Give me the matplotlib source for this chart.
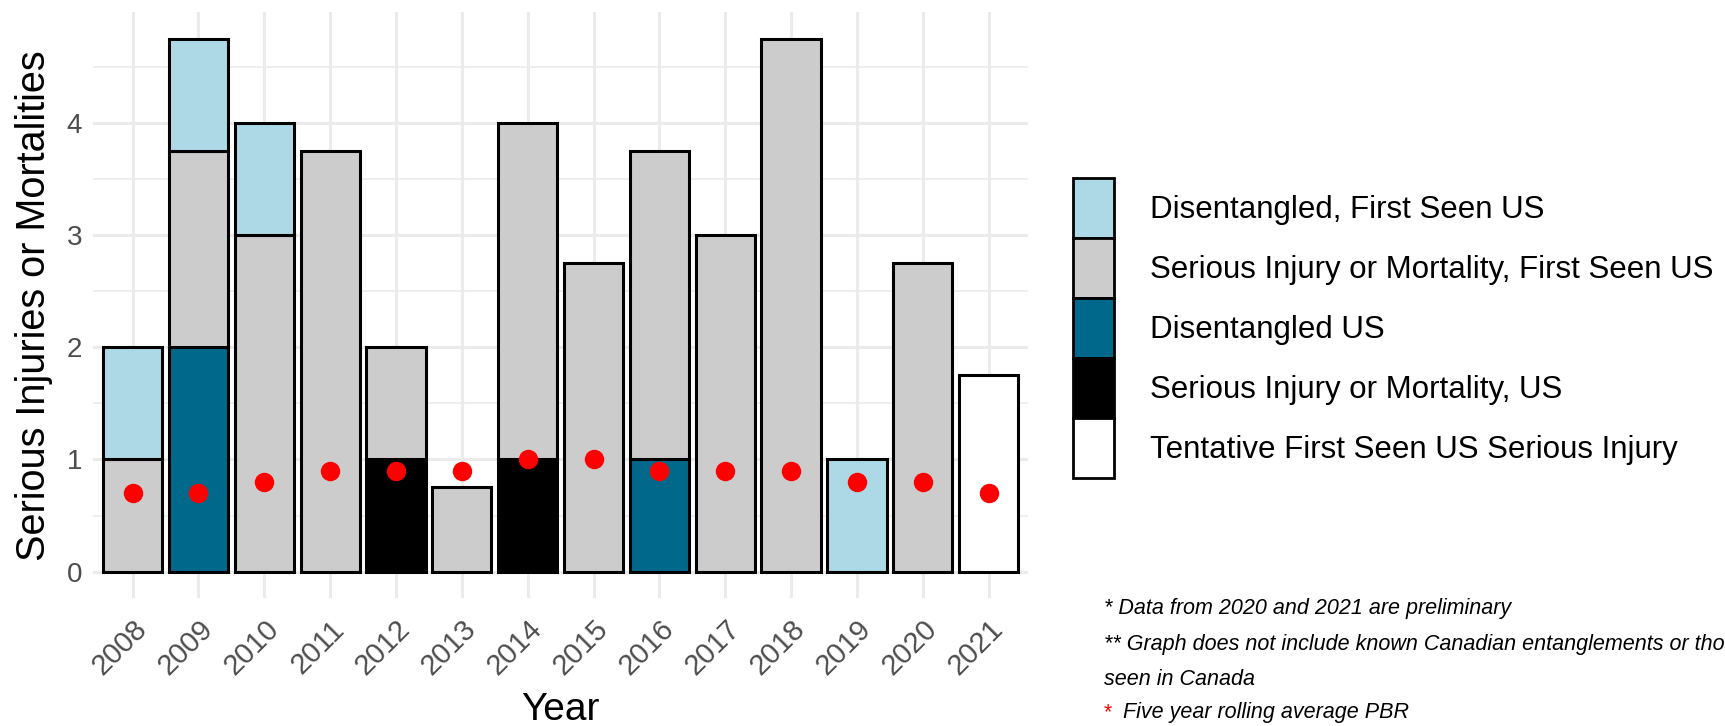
import matplotlib
matplotlib.use('Agg')
import matplotlib.pyplot as plt
from matplotlib.patches import Patch
from matplotlib.ticker import MultipleLocator
import numpy as np

years = ['2008', '2009', '2010', '2011', '2012', '2013', '2014',
         '2015', '2016', '2017', '2018', '2019', '2020', '2021']

# stacked from the bottom up
si_us = [0, 0, 0, 0, 1, 0, 1, 0, 0, 0, 0, 0, 0, 0]
dis_us = [0, 2, 0, 0, 0, 0, 0, 0, 1, 0, 0, 0, 0, 0]
si_fsus = [1, 1.75, 3, 3.75, 1, 0.75, 3, 2.75, 2.75, 3, 4.75, 0, 2.75, 0]
dis_fsus = [1, 1, 1, 0, 0, 0, 0, 0, 0, 0, 0, 1, 0, 0]
tentative = [0, 0, 0, 0, 0, 0, 0, 0, 0, 0, 0, 0, 0, 1.75]

pbr = [0.7, 0.7, 0.8, 0.9, 0.9, 0.9, 1.0, 1.0, 0.9, 0.9, 0.9, 0.8, 0.8, 0.7]

labels = ['Disentangled, First Seen US',
          'Serious Injury or Mortality, First Seen US',
          'Disentangled US',
          'Serious Injury or Mortality, US',
          'Tentative First Seen US Serious Injury']
colors = ['#ADD8E6', '#CCCCCC', '#00688B', '#000000', '#FFFFFF']

font = 'Liberation Sans'

fig = plt.figure(figsize=(17.25, 7.26), dpi=100)
ax = fig.add_axes([0.054, 0.176, 0.542, 0.807])

x = np.arange(len(years))
series = [tentative, si_us, dis_us, si_fsus, dis_fsus]
series_colors = [colors[4], colors[3], colors[2], colors[1], colors[0]]
bottom = np.zeros(len(years))
for vals, col in zip(series, series_colors):
    vals = np.array(vals, dtype=float)
    mask = vals > 0
    ax.bar(x[mask], vals[mask], bottom=bottom[mask], width=0.9, color=col,
           edgecolor='black', linewidth=2.2, zorder=2)
    bottom += vals

ax.plot(x, pbr, 'o', color='red', markersize=14, markeredgewidth=0, zorder=3)

ax.set_xlim(-0.6, 13.6)
ax.set_ylim(-0.2375, 4.9875)
ax.yaxis.set_major_locator(MultipleLocator(1))
ax.yaxis.set_minor_locator(MultipleLocator(0.5))
ax.set_xticks(x)
ax.set_xticklabels(years, rotation=45, ha='right', va='top', rotation_mode='anchor',
                   fontsize=21, color='#4D4D4D', family=font)
for lab in ax.get_yticklabels():
    lab.set_fontsize(20)
    lab.set_color('#4D4D4D')
    lab.set_family(font)
ax.tick_params(axis='both', which='both', length=0)
ax.tick_params(axis='x', pad=12)
ax.tick_params(axis='y', pad=8)

ax.grid(True, which='major', color='#EBEBEB', linewidth=2.2, zorder=0)
ax.grid(True, which='minor', axis='y', color='#EBEBEB', linewidth=1.1, zorder=0)
ax.set_axisbelow(True)
for s in ax.spines.values():
    s.set_visible(False)

ax.set_xlabel('Year', fontsize=28, family=font, labelpad=8)
ax.set_ylabel('Serious Injuries or Mortalities', fontsize=28.5, family=font, labelpad=10)

handles = [Patch(facecolor=c, edgecolor='black', linewidth=2) for c in colors]
fig.legend(handles, labels, loc='upper left', bbox_to_anchor=(0.615, 0.772),
           frameon=False, prop={'family': font, 'size': 22.5},
           handlelength=1.3, handleheight=2.58, labelspacing=0.0,
           handletextpad=1.15, borderaxespad=0)

fn = 15.5
fig.text(0.64, 0.162, '* Data from 2020 and 2021 are preliminary',
         fontsize=fn, style='italic', family=font, va='center')
fig.text(0.64, 0.112, '** Graph does not include known Canadian entanglements or those first',
         fontsize=fn, style='italic', family=font, va='center')
fig.text(0.64, 0.064, 'seen in Canada', fontsize=fn, style='italic', family=font,
         va='center')
fig.text(0.64, 0.019, '*', fontsize=fn, color='red', family=font, va='center')
fig.text(0.651, 0.019, 'Five year rolling average PBR', fontsize=fn, style='italic',
         family=font, va='center')

fig.savefig('out.png', dpi=100, facecolor='white')
